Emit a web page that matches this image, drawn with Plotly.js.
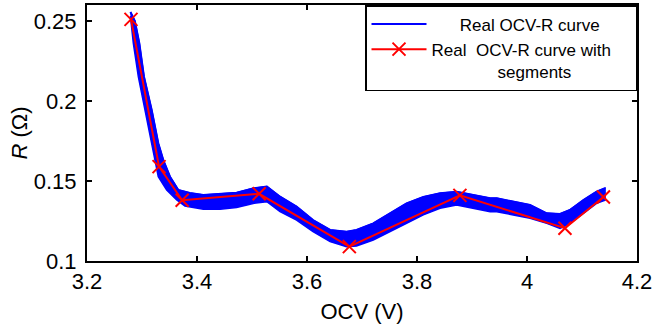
<!DOCTYPE html>
<html>
<head>
<meta charset="utf-8">
<script src="https://cdn.plot.ly/plotly-3.0.1.min.js"></script>
<style>html,body{margin:0;padding:0;background:#fff;}#chart{width:667px;height:324px;}</style>
</head>
<body>
<div id="chart"></div>
<script>
// Upper and lower edges of the noisy measured OCV-R band
const upperV = [3.279, 3.287, 3.2951, 3.3036, 3.3176, 3.3296, 3.3387, 3.3509, 3.366, 3.387, 3.4115, 3.442, 3.472, 3.502, 3.527, 3.551, 3.581, 3.611, 3.642, 3.672, 3.690, 3.7205, 3.751, 3.781, 3.8115, 3.842, 3.872, 3.9025, 3.933, 3.945, 3.975, 4.0055, 4.036, 4.06, 4.078, 4.1025, 4.1265, 4.142];
const upperR = [0.2556, 0.2500, 0.2361, 0.2152, 0.1944, 0.1736, 0.1631, 0.1527, 0.1444, 0.1425, 0.1413, 0.1419, 0.1427, 0.1454, 0.1465, 0.1402, 0.134, 0.1256, 0.1194, 0.1183, 0.1194, 0.1235, 0.1298, 0.136, 0.140, 0.1423, 0.1433, 0.1413, 0.1392, 0.1392, 0.1371, 0.135, 0.1298, 0.1294, 0.1319, 0.1381, 0.1433, 0.1455];
const lowerV = [3.279, 3.2842, 3.2933, 3.3055, 3.3176, 3.3236, 3.3296, 3.3449, 3.3631, 3.378, 3.4115, 3.442, 3.472, 3.502, 3.527, 3.551, 3.581, 3.611, 3.642, 3.672, 3.690, 3.7205, 3.751, 3.781, 3.8115, 3.842, 3.872, 3.9025, 3.933, 3.945, 3.975, 4.0055, 4.036, 4.06, 4.078, 4.1025, 4.1265, 4.142];
const lowerR = [0.2530, 0.2361, 0.2152, 0.1944, 0.1736, 0.1631, 0.1527, 0.1444, 0.1381, 0.1344, 0.1323, 0.1323, 0.1335, 0.136, 0.1371, 0.1308, 0.1256, 0.1183, 0.1121, 0.1089, 0.1094, 0.1131, 0.1183, 0.1235, 0.1288, 0.133, 0.135, 0.133, 0.1308, 0.1308, 0.1288, 0.1267, 0.1235, 0.1204, 0.1235, 0.1298, 0.136, 0.138];
// Segment breakpoints
const segV = [3.280, 3.331, 3.373, 3.513, 3.677, 3.878, 4.069, 4.139];
const segR = [0.251, 0.159, 0.138, 0.142, 0.109, 0.141, 0.1205, 0.140];
const xTicks = [3.2, 3.4, 3.6, 3.8, 4.0, 4.2];
const xTickText = ['3.2', '3.4', '3.6', '3.8', '4', '4.2'];
const yTicks = [0.1, 0.15, 0.2, 0.25];
const yTickText = ['0.1', '0.15', '0.2', '0.25'];

const nb = n => '&nbsp;'.repeat(n);
const FONT = 'Liberation Sans, Arial, Helvetica, sans-serif';

const bandX = upperV.concat(lowerV.slice().reverse());
const bandY = upperR.concat(lowerR.slice().reverse());

const traces = [
  {x: upperV, y: upperR, mode: 'lines', name: nb(6) + 'Real OCV-R curve',
   line: {color: '#0000ff', width: 2}, showlegend: true, hoverinfo: 'skip'},
  {x: bandX, y: bandY, mode: 'lines', fill: 'toself', fillcolor: '#0000ff',
   line: {color: '#0000ff', width: 1.5}, showlegend: false, hoverinfo: 'skip'},
  {x: segV, y: segR, mode: 'lines+markers',
   name: 'Real  OCV-R curve with' + nb(4) + '<br>' + nb(14) + 'segments',
   line: {color: '#ff0000', width: 2},
   marker: {symbol: 'x-thin-open', size: 13, color: '#ff0000', line: {color: '#ff0000', width: 2}}}
];

const axisCommon = {
  showline: true, linecolor: '#000', linewidth: 2, mirror: 'ticks',
  ticks: 'inside', ticklen: 5, tickwidth: 1.5, tickcolor: '#000',
  showgrid: false, zeroline: false,
  tickfont: {family: FONT, size: 22, color: '#000'}
};

const layout = {
  width: 667, height: 324,
  margin: {l: 87, r: 30, t: 5, b: 63},
  paper_bgcolor: '#fff', plot_bgcolor: '#fff',
  font: {family: FONT, color: '#000'},
  xaxis: Object.assign({}, axisCommon, {
    range: [3.2, 4.2], tickvals: xTicks, ticktext: xTickText,
    ticklabelstandoff: 0,
    title: {text: 'OCV (V)', font: {family: FONT, size: 22, color: '#000'}, standoff: 10}
  }),
  yaxis: Object.assign({}, axisCommon, {
    range: [0.1, 0.26], tickvals: yTicks, ticktext: yTickText,
    ticklabelstandoff: 4,
    title: {text: '<i>R</i> (Ω)', font: {family: FONT, size: 22, color: '#000'}, standoff: 0}
  }),
  legend: {
    x: 1, y: 1, xanchor: 'right', yanchor: 'top',
    bgcolor: '#fff', bordercolor: '#000', borderwidth: 1.5,
    font: {family: FONT, size: 17, color: '#000'},
    itemwidth: 55, valign: 'top', tracegroupgap: 0
  },
  showlegend: true
};

Plotly.newPlot('chart', traces, layout, {displayModeBar: false, staticPlot: true});
</script>
</body>
</html>
